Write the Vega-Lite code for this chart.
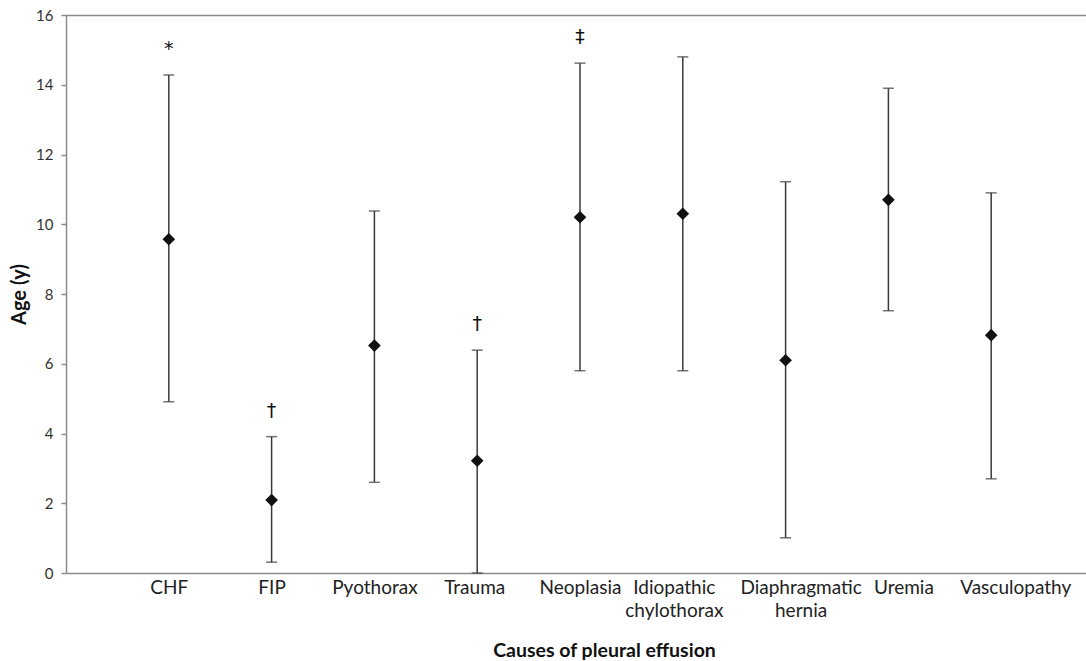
{
  "$schema": "https://vega.github.io/schema/vega-lite/v6.json",
  "width": 1020,
  "height": 558,
  "autosize": "none",
  "padding": {"left": 66, "top": 15, "right": 0, "bottom": 88},
  "background": "white",
  "config": {"view": {"stroke": null}, "font": "Lato"},
  "data": {"values": [
    {"cause": "CHF", "mean": 9.57, "lower": 4.91, "upper": 14.28, "note": "*"},
    {"cause": "FIP", "mean": 2.09, "lower": 0.31, "upper": 3.91, "note": "†"},
    {"cause": "Pyothorax", "mean": 6.52, "lower": 2.6, "upper": 10.38, "note": ""},
    {"cause": "Trauma", "mean": 3.22, "lower": 0, "upper": 6.39, "note": "†"},
    {"cause": "Neoplasia", "mean": 10.2, "lower": 5.8, "upper": 14.62, "note": "‡"},
    {"cause": "Idiopathic chylothorax", "mean": 10.3, "lower": 5.8, "upper": 14.8, "note": ""},
    {"cause": "Diaphragmatic hernia", "mean": 6.1, "lower": 1.01, "upper": 11.22, "note": ""},
    {"cause": "Uremia", "mean": 10.7, "lower": 7.52, "upper": 13.9, "note": ""},
    {"cause": "Vasculopathy", "mean": 6.82, "lower": 2.7, "upper": 10.9, "note": ""}
  ]},
  "encoding": {
    "x": {
      "field": "cause", "type": "nominal", "sort": null,
      "scale": {"type": "point", "padding": 1, "range": [0, 1028]},
      "axis": {
        "title": "Causes of pleural effusion",
        "labelAngle": 0,
        "labelFont": "Lato", "labelFontSize": 19, "labelColor": "#222",
        "labelPadding": 5, "labelLineHeight": 23,
        "labelExpr": "datum.label == 'Idiopathic chylothorax' ? ['Idiopathic', 'chylothorax'] : datum.label == 'Diaphragmatic hernia' ? ['Diaphragmatic', 'hernia'] : datum.label",
        "labelOffset": {"condition": [
          {"test": "datum.value == 'Trauma'", "value": -3},
          {"test": "datum.value == 'Idiopathic chylothorax'", "value": -9},
          {"test": "datum.value == 'Diaphragmatic hernia'", "value": 15},
          {"test": "datum.value == 'Uremia'", "value": 15},
          {"test": "datum.value == 'Vasculopathy'", "value": 24}
        ], "value": 0},
        "ticks": false,
        "domainColor": "#8c8c8c", "domainWidth": 1.5,
        "titleFont": "Lato", "titleFontSize": 19.5, "titleFontWeight": "bold", "titleColor": "#111",
        "titleX": 538, "titleY": 83, "titleBaseline": "alphabetic", "titleAnchor": "middle"
      }
    }
  },
  "layer": [
    {
      "mark": {"type": "rule", "color": "#3a3a3a", "strokeWidth": 1.5},
      "encoding": {
        "y": {
          "field": "lower", "type": "quantitative",
          "scale": {"domain": [0, 16], "nice": false},
          "axis": {
            "title": "Age (y)",
            "values": [0, 2, 4, 6, 8, 10, 12, 14, 16],
            "grid": true,
            "gridColor": "#8c8c8c", "gridWidth": 1.5,
            "gridOpacity": {"condition": {"test": "datum.value === 16", "value": 1}, "value": 0},
            "domainColor": "#8c8c8c", "domainWidth": 1.5,
            "tickColor": "#8c8c8c", "tickWidth": 1.5, "tickSize": 5,
            "labelFont": "Lato", "labelFontSize": 15, "labelColor": "#333", "labelPadding": 8,
            "titleFont": "Lato", "titleFontSize": 20, "titleFontWeight": "bold", "titleColor": "#111",
            "titlePadding": 6
          }
        },
        "y2": {"field": "upper"}
      }
    },
    {
      "mark": {"type": "tick", "color": "#3a3a3a", "size": 11, "thickness": 1.5, "orient": "horizontal"},
      "encoding": {"y": {"field": "upper", "type": "quantitative"}}
    },
    {
      "mark": {"type": "tick", "color": "#3a3a3a", "size": 11, "thickness": 1.5, "orient": "horizontal"},
      "encoding": {"y": {"field": "lower", "type": "quantitative"}}
    },
    {
      "mark": {"type": "point", "shape": "diamond", "filled": true, "color": "#111", "size": 160, "opacity": 1},
      "encoding": {"y": {"field": "mean", "type": "quantitative"}}
    },
    {
      "mark": {"type": "text", "fontSize": 19, "fontWeight": "normal", "color": "#111", "dy": -26, "baseline": "middle", "font": "DejaVu Sans"},
      "encoding": {
        "y": {"field": "upper", "type": "quantitative"},
        "text": {"field": "note"}
      }
    }
  ]
}
